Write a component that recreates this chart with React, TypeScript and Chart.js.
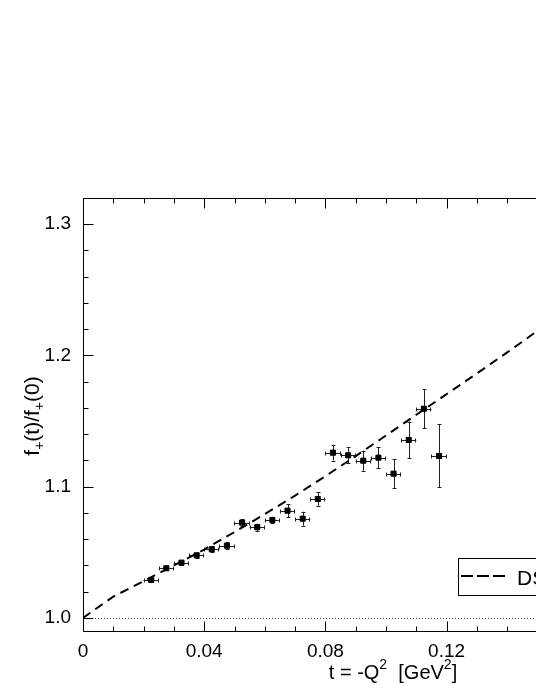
import React, { useEffect, useRef } from "react";
import { Chart, registerables } from "chart.js";

Chart.register(...registerables);

// ---- data ----
const tValues = [
  0.0225, 0.0275, 0.0325, 0.0375, 0.0425, 0.0475, 0.0525, 0.0575, 0.0625, 0.0675,
  0.0725, 0.0775, 0.0825, 0.0875, 0.0925, 0.0975, 0.1025, 0.1075, 0.1125, 0.1175,
];
const ratioValues = [
  1.0289, 1.0378, 1.0421, 1.0477, 1.0523, 1.055, 1.0726, 1.0691, 1.0746, 1.0817,
  1.0756, 1.0906, 1.1259, 1.1239, 1.1198, 1.1221, 1.1099, 1.1356, 1.1594, 1.1234,
];
const ratioErrors = [
  0.0015, 0.0015, 0.0015, 0.002, 0.0023, 0.0025, 0.0025, 0.0028, 0.0025, 0.005,
  0.0053, 0.0051, 0.006, 0.006, 0.0076, 0.008, 0.011, 0.014, 0.015, 0.024,
];
const tErrors = [
  0.0025, 0.0025, 0.0025, 0.0025, 0.0025, 0.0025, 0.0025, 0.0025, 0.0025, 0.0025,
  0.0025, 0.0025, 0.0025, 0.0025, 0.0025, 0.0025, 0.0025, 0.0025, 0.0025, 0.0025,
];
const modelT = [0, 0.01, 0.02, 0.03, 0.04, 0.05, 0.06, 0.07, 0.08, 0.09, 0.1, 0.11, 0.12, 0.13, 0.14, 0.15, 0.16];
const modelRatio = [
  1.0, 1.0162, 1.028, 1.04, 1.0521, 1.0654, 1.0791, 1.0932, 1.108, 1.1233, 1.139,
  1.1548, 1.1705, 1.1863, 1.2023, 1.2188, 1.2353,
];
const legendLabel = "DSE";
const xRange = [0, 0.2];
const yRange = [0.99, 1.32];
const xStep = 0.04;
const yStep = 0.1;

const FONT = "'Liberation Sans', Arial, Helvetica, sans-serif";

type Part = { text: string; size: number; dy: number };

function richWidth(ctx: CanvasRenderingContext2D, parts: Part[]) {
  let w = 0;
  for (const p of parts) {
    ctx.font = `${p.size}px ${FONT}`;
    w += ctx.measureText(p.text).width;
  }
  return w;
}

function drawRich(ctx: CanvasRenderingContext2D, parts: Part[], cx: number, baseline: number) {
  let x = cx - richWidth(ctx, parts) / 2;
  ctx.textAlign = "left";
  ctx.textBaseline = "alphabetic";
  for (const p of parts) {
    ctx.font = `${p.size}px ${FONT}`;
    ctx.fillText(p.text, x, baseline + p.dy);
    x += ctx.measureText(p.text).width;
  }
}

const decorPlugin = {
  id: "decor",
  beforeDatasetsDraw(chart: any) {
    const { ctx, chartArea: a, scales } = chart;
    const xs = scales.x;
    const ys = scales.y;
    ctx.save();
    // dotted reference line at 1.0
    ctx.strokeStyle = "#444";
    ctx.lineWidth = 1;
    ctx.setLineDash([1, 2]);
    const y1 = Math.round(ys.getPixelForValue(1.0)) + 0.5;
    ctx.beginPath();
    ctx.moveTo(a.left, y1);
    ctx.lineTo(a.right, y1);
    ctx.stroke();
    ctx.setLineDash([]);
    // error bars
    ctx.strokeStyle = "#222";
    ctx.lineWidth = 1;
    for (let i = 0; i < tValues.length; i++) {
      const px = Math.round(xs.getPixelForValue(tValues[i])) + 0.5;
      const py = Math.round(ys.getPixelForValue(ratioValues[i])) + 0.5;
      const yTop = ys.getPixelForValue(ratioValues[i] + ratioErrors[i]);
      const yBot = ys.getPixelForValue(ratioValues[i] - ratioErrors[i]);
      const xL = xs.getPixelForValue(tValues[i] - tErrors[i]);
      const xR = xs.getPixelForValue(tValues[i] + tErrors[i]);
      ctx.beginPath();
      ctx.moveTo(px, yTop);
      ctx.lineTo(px, yBot);
      ctx.moveTo(px - 2, Math.round(yTop) + 0.5);
      ctx.lineTo(px + 2, Math.round(yTop) + 0.5);
      ctx.moveTo(px - 2, Math.round(yBot) + 0.5);
      ctx.lineTo(px + 2, Math.round(yBot) + 0.5);
      ctx.moveTo(xL, py);
      ctx.lineTo(xR, py);
      ctx.moveTo(Math.round(xL) + 0.5, py - 2);
      ctx.lineTo(Math.round(xL) + 0.5, py + 2);
      ctx.moveTo(Math.round(xR) - 0.5, py - 2);
      ctx.lineTo(Math.round(xR) - 0.5, py + 2);
      ctx.stroke();
    }
    ctx.restore();
  },
  afterDraw(chart: any) {
    const { ctx, chartArea: a, scales } = chart;
    const xs = scales.x;
    const ys = scales.y;
    ctx.save();
    ctx.strokeStyle = "#000";
    ctx.lineWidth = 1;
    const L = a.left + 0.5;
    const R = Math.round(a.right) - 0.5;
    const T = a.top + 0.5;
    const B = a.bottom + 0.5;
    ctx.beginPath();
    ctx.moveTo(L, T);
    ctx.lineTo(R, T);
    ctx.lineTo(R, B);
    ctx.lineTo(L, B);
    ctx.closePath();
    ctx.stroke();
    // x ticks (inward), bottom & top
    ctx.beginPath();
    for (let i = 0; i <= 20; i++) {
      const v = i * 0.01;
      const px = Math.round(xs.getPixelForValue(v)) + 0.5;
      const len = i % 4 === 0 ? 10 : 5;
      ctx.moveTo(px, B);
      ctx.lineTo(px, B - len);
      ctx.moveTo(px, T);
      ctx.lineTo(px, T + len);
    }
    // y ticks (inward), left & right
    for (let i = 50; i <= 66; i++) {
      const v = i * 0.02;
      if (v < yRange[0] || v > yRange[1]) continue;
      const py = Math.round(ys.getPixelForValue(v)) + 0.5;
      const len = i % 5 === 0 ? 10 : 5;
      ctx.moveTo(L, py);
      ctx.lineTo(L + len, py);
      ctx.moveTo(R, py);
      ctx.lineTo(R - len, py);
    }
    ctx.stroke();

    // axis titles
    ctx.fillStyle = "#000";
    drawRich(
      ctx,
      [
        { text: "t = -Q", size: 20, dy: 0 },
        { text: "2", size: 14, dy: -10 },
        { text: "  [GeV", size: 20, dy: 0 },
        { text: "2", size: 14, dy: -10 },
        { text: "]", size: 20, dy: 0 },
      ],
      393,
      679
    );
    ctx.save();
    ctx.translate(39, 416);
    ctx.rotate(-Math.PI / 2);
    drawRich(
      ctx,
      [
        { text: "f", size: 21, dy: 0 },
        { text: "+", size: 14, dy: 5 },
        { text: "(t)/f", size: 21, dy: 0 },
        { text: "+", size: 14, dy: 5 },
        { text: "(0)", size: 21, dy: 0 },
      ],
      0,
      0
    );
    ctx.restore();

    // legend
    ctx.strokeStyle = "#000";
    ctx.lineWidth = 1;
    ctx.strokeRect(458.5, 558.5, 170, 37);
    ctx.lineWidth = 2;
    ctx.setLineDash([12, 4]);
    ctx.beginPath();
    ctx.moveTo(461, 576);
    ctx.lineTo(505, 576);
    ctx.stroke();
    ctx.setLineDash([]);
    ctx.font = `21px ${FONT}`;
    ctx.textAlign = "left";
    ctx.textBaseline = "alphabetic";
    ctx.fillText(legendLabel, 517, 585);
    ctx.restore();
  },
};

export default function App() {
  const ref = useRef<HTMLCanvasElement | null>(null);
  useEffect(() => {
    if (!ref.current) return;
    const chart = new Chart(ref.current, {
      type: "scatter",
      data: {
        datasets: [
          {
            label: legendLabel,
            data: modelT.map((t, i) => ({ x: t, y: modelRatio[i] })),
            showLine: true,
            borderColor: "#000",
            borderWidth: 2,
            borderDash: [9, 6],
            pointRadius: 0,
            tension: 0,
            fill: false,
          },
          {
            label: "data",
            data: tValues.map((t, i) => ({ x: t, y: ratioValues[i] })),
            pointStyle: "rect",
            pointRadius: 3.6,
            backgroundColor: "#000",
            borderColor: "#000",
            borderWidth: 1,
            showLine: false,
          },
        ],
      },
      options: {
        responsive: false,
        animation: false,
        layout: { padding: { top: 198, left: 0, right: 71, bottom: 0 } },
        plugins: { legend: { display: false }, tooltip: { enabled: false }, title: { display: false } },
        scales: {
          x: {
            type: "linear",
            min: xRange[0],
            max: xRange[1],
            grid: { display: false },
            border: { display: false },
            ticks: {
              stepSize: xStep,
              includeBounds: false,
              autoSkip: false,
              maxRotation: 0,
              padding: 1,
              color: "#000",
              font: { family: FONT, size: 19 },
              callback: (v: any) => (Math.abs(v) < 1e-9 ? "0" : String(+Number(v).toFixed(2))),
            },
            afterFit: (s: any) => {
              s.height = 63;
            },
          },
          y: {
            type: "linear",
            min: yRange[0],
            max: yRange[1],
            grid: { display: false },
            border: { display: false },
            ticks: {
              stepSize: yStep,
              includeBounds: false,
              autoSkip: false,
              padding: 4,
              color: "#000",
              font: { family: FONT, size: 19 },
              callback: (v: any) => Number(v).toFixed(1),
            },
            afterFit: (s: any) => {
              s.width = 83;
            },
          },
        },
      },
      plugins: [decorPlugin],
    });
    return () => chart.destroy();
  }, []);

  return (
    <div
      style={{
        position: "fixed",
        left: 0,
        top: 0,
        width: 536,
        height: 694,
        overflow: "hidden",
        background: "#fff",
      }}
    >
      <canvas ref={ref} width={760} height={694} style={{ display: "block", width: 760, height: 694 }} />
    </div>
  );
}
